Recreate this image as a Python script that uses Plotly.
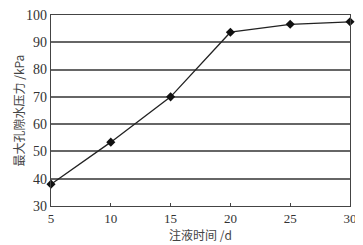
import plotly.graph_objects as go

days = [5, 10, 15, 20, 25, 30]
pressure = [38.0, 53.4, 70.0, 93.7, 96.6, 97.5]
x_ticks = [5, 10, 15, 20, 25, 30]
y_ticks = [30, 40, 50, 60, 70, 80, 90, 100]

fig = go.Figure()
fig.add_trace(go.Scatter(
    x=days, y=pressure, mode="lines+markers",
    line=dict(color="#222222", width=1.3),
    marker=dict(symbol="diamond", size=7, color="#111111"),
    showlegend=False, cliponaxis=False,
))

# page body has an 8px default margin, so the figure is sized to fit the window
fig.update_layout(
    width=355, height=237,
    margin=dict(l=43, r=13, t=7, b=39),
    paper_bgcolor="white", plot_bgcolor="white",
    font=dict(family="Liberation Serif, serif", size=14, color="#333333"),
)
fig.update_xaxes(
    range=[5, 30], tickvals=x_ticks, ticks="inside", ticklen=3, tickcolor="#444",
    showgrid=False, showline=True, linecolor="#444", linewidth=1.2, mirror=True,
    zeroline=False, automargin=False, ticklabeloverflow="allow",
    tickfont=dict(size=13),
)
fig.update_yaxes(
    range=[30, 100], tickvals=y_ticks, ticks="", showgrid=True,
    gridcolor="#666666", gridwidth=1.5,
    showline=True, linecolor="#444", linewidth=1.2, mirror=True, zeroline=False,
    automargin=False, ticklabeloverflow="allow",
)
fig.add_annotation(
    text="注液时间 /d", xref="paper", yref="paper", x=0.5, y=0,
    xanchor="center", yanchor="middle", yshift=-28, showarrow=False,
    font=dict(family="Noto Sans CJK SC", size=12, color="#444"),
)
fig.add_annotation(
    text="最大孔隙水压力 /kPa", xref="paper", yref="paper", x=0, y=0.5,
    xanchor="center", yanchor="middle", xshift=-33, textangle=-90, showarrow=False,
    font=dict(family="Noto Sans CJK SC", size=12, color="#444"),
)
fig.write_html("out.html")
